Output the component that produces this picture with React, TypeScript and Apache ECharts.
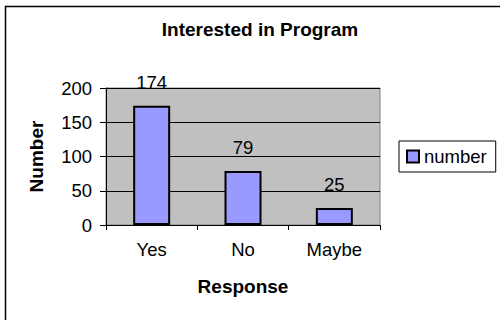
import React, { useEffect, useRef } from "react";
import * as echarts from "echarts";

const categories = ["Yes", "No", "Maybe"];
const values = [174, 79, 25];
const seriesName = "number";
const yTicks = [0, 50, 100, 150, 200];

const FONT = "Arial, 'Liberation Sans', sans-serif";

export default function App() {
  const ref = useRef<HTMLDivElement>(null);
  useEffect(() => {
    document.body.style.margin = "0";
    const chart = echarts.init(ref.current!, null, { renderer: "svg" });
    chart.setOption({
      animation: false,
      backgroundColor: "#ffffff",
      textStyle: { fontFamily: FONT },
      title: {
        text: "Interested in Program",
        left: 255,
        top: 15,
        textAlign: "center",
        textStyle: { fontSize: 19, fontWeight: "bold", color: "#000", fontFamily: FONT },
      },
      graphic: [
        {
          type: "rect",
          shape: { x: 5.5, y: 6.5, width: 600, height: 400 },
          style: { fill: "none", stroke: "#000", lineWidth: 1.5 },
          silent: true,
        },
      ],
      legend: {
        data: [seriesName],
        left: 399,
        top: 141,
        orient: "vertical",
        icon: "rect",
        itemWidth: 12,
        itemHeight: 12,
        itemGap: 5,
        padding: [6, 9, 6, 7],
        borderColor: "#000",
        borderWidth: 1,
        backgroundColor: "#fff",
        borderRadius: 0,
        itemStyle: { borderColor: "#000", borderWidth: 2 },
        textStyle: { fontSize: 18.5, color: "#000", fontFamily: FONT, padding: [0, 0, 0, 0] },
      },
      grid: {
        left: 106,
        right: 120,
        top: 88,
        bottom: 95,
        show: true,
        backgroundColor: "#C0C0C0",
        borderColor: "#808080",
        borderWidth: 1,
        containLabel: false,
      },
      xAxis: {
        type: "category",
        data: categories,
        name: "Response",
        nameLocation: "middle",
        nameGap: 52,
        nameTextStyle: { fontSize: 19, fontWeight: "bold", color: "#000", fontFamily: FONT },
        axisLine: { show: true, lineStyle: { color: "#000", width: 1 } },
        axisTick: { show: true, length: 5, alignWithLabel: false, lineStyle: { color: "#000" } },
        axisLabel: { fontSize: 18.5, color: "#000", margin: 15, fontFamily: FONT },
      },
      yAxis: {
        type: "value",
        min: yTicks[0],
        max: yTicks[yTicks.length - 1],
        interval: 50,
        name: "Number",
        nameLocation: "middle",
        nameGap: 60,
        nameRotate: 90,
        nameTextStyle: { fontSize: 19, fontWeight: "bold", color: "#000", fontFamily: FONT },
        axisLine: { show: true, lineStyle: { color: "#000", width: 1 } },
        axisTick: { show: true, length: 6, lineStyle: { color: "#000" } },
        axisLabel: { fontSize: 18.5, color: "#000", margin: 14, fontFamily: FONT },
        splitLine: { show: true, lineStyle: { color: "#000", width: 1 } },
      },
      series: [
        {
          name: seriesName,
          type: "bar",
          data: values,
          barWidth: 37,
          itemStyle: { color: "#9999FF", borderColor: "#000", borderWidth: 2 },
          label: {
            show: true,
            position: "top",
            distance: 14,
            fontSize: 18.5,
            color: "#000",
            fontFamily: FONT,
          },
        },
      ],
    });
    return () => chart.dispose();
  }, []);
  return <div ref={ref} style={{ width: 500, height: 320 }} />;
}
